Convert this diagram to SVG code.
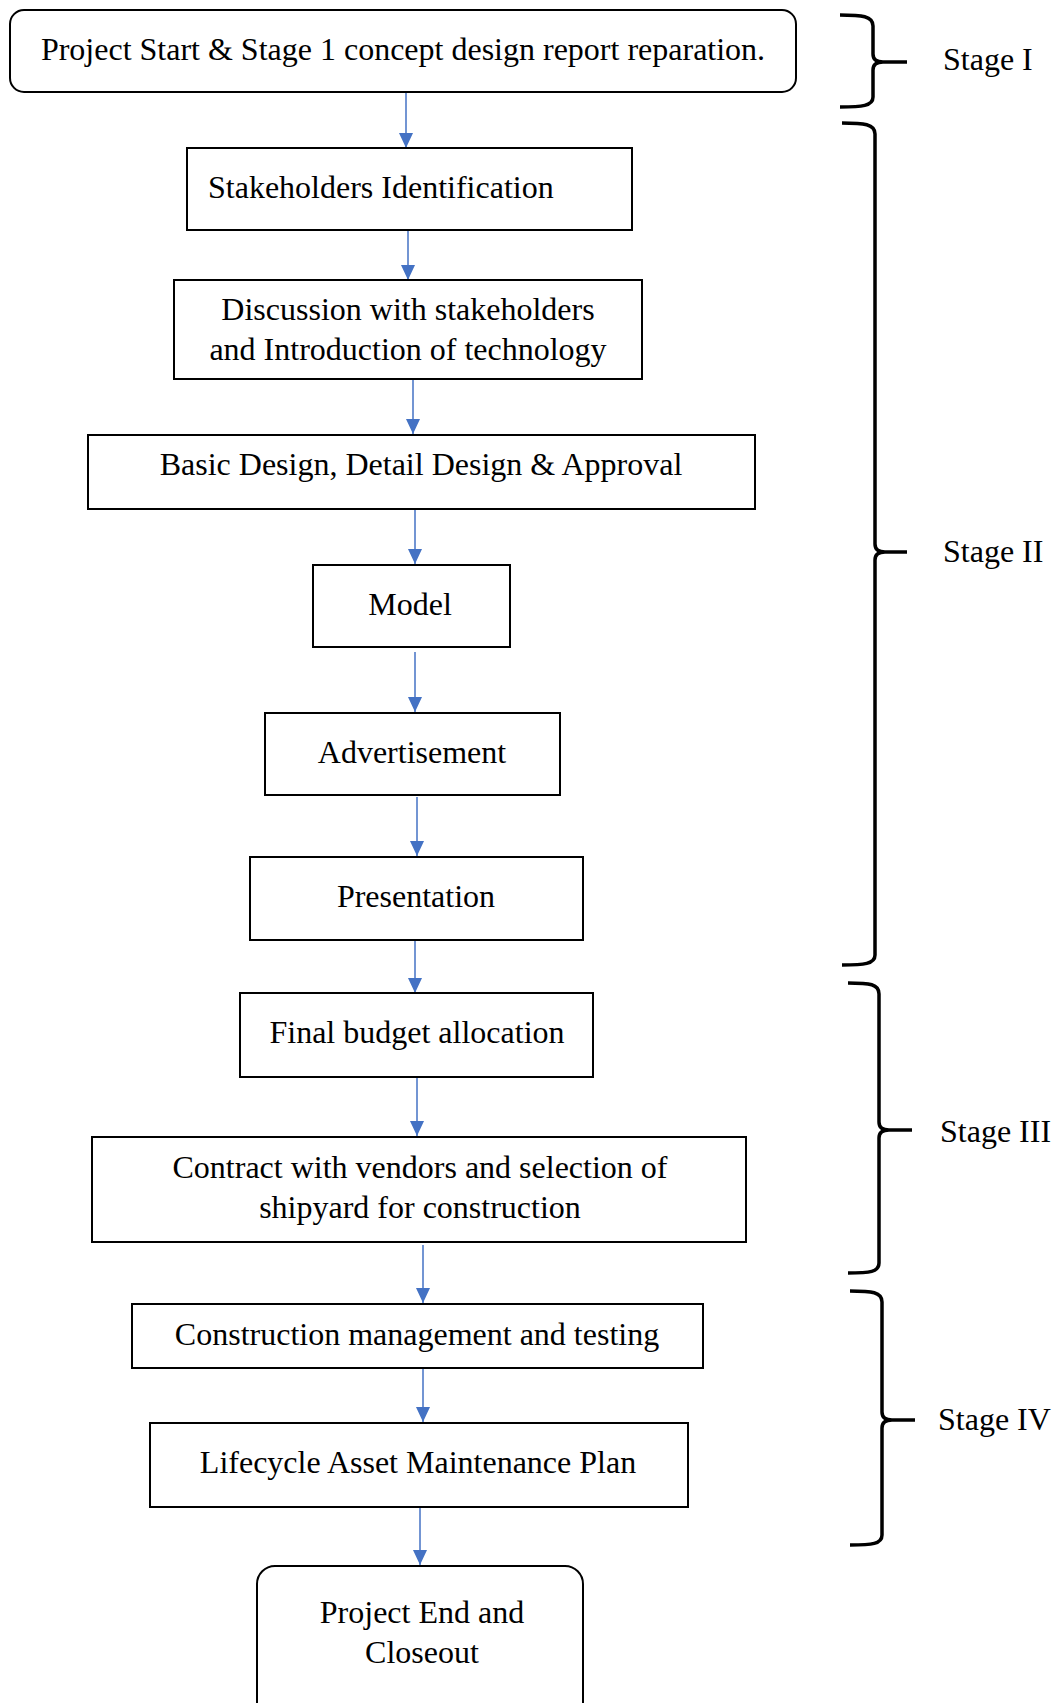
<svg xmlns="http://www.w3.org/2000/svg" width="1055" height="1703" viewBox="0 0 1055 1703">
  <defs>
    <style>
      .box { fill: #ffffff; stroke: #000000; stroke-width: 2; }
      .lbl { font-family: "Liberation Serif", "Times New Roman", serif; font-size: 32px; fill: #000000; }
      .mid { text-anchor: middle; }
      .conn { stroke: #4472C4; stroke-width: 1.5; fill: none; marker-end: url(#arrow); }
      .brace { stroke: #000000; stroke-width: 3.5; fill: none; stroke-linecap: butt; }
    </style>
    <!-- filled triangle head, drawn along +x so orient="auto" turns it with the line -->
    <marker id="arrow" markerUnits="userSpaceOnUse" markerWidth="15" markerHeight="14" viewBox="0 0 15 14" refX="15" refY="7" orient="auto">
      <path d="M0,0 L15,7 L0,14 Z" fill="#4472C4"/>
    </marker>
  </defs>

  <rect width="1055" height="1703" fill="#ffffff"/>

  <!-- flow connectors -->
  <g id="connectors">
    <line class="conn" x1="406" y1="93" x2="406" y2="148"/>
    <line class="conn" x1="408" y1="230" x2="408" y2="280"/>
    <line class="conn" x1="413" y1="379" x2="413" y2="434"/>
    <line class="conn" x1="415" y1="509" x2="415" y2="564"/>
    <line class="conn" x1="415" y1="652" x2="415" y2="712"/>
    <line class="conn" x1="417" y1="797" x2="417" y2="856"/>
    <line class="conn" x1="415" y1="940" x2="415" y2="993"/>
    <line class="conn" x1="417" y1="1077" x2="417" y2="1136"/>
    <line class="conn" x1="423" y1="1245" x2="423" y2="1303"/>
    <line class="conn" x1="423" y1="1368" x2="423" y2="1422"/>
    <line class="conn" x1="420" y1="1507" x2="420" y2="1565"/>
  </g>

  <g id="n-start">
    <rect class="box" x="10" y="10" width="786" height="82" rx="14"/>
    <text class="lbl mid" x="403" y="60">Project Start &amp; Stage 1 concept design report reparation.</text>
  </g>
  <g id="n-stakeholders">
    <rect class="box" x="187" y="148" width="445" height="82"/>
    <text class="lbl" x="208" y="198">Stakeholders Identification</text>
  </g>
  <g id="n-discussion">
    <rect class="box" x="174" y="280" width="468" height="99"/>
    <text class="lbl mid" x="408" y="320">Discussion with stakeholders</text>
    <text class="lbl mid" x="408" y="360">and Introduction of technology</text>
  </g>
  <g id="n-design">
    <rect class="box" x="88" y="435" width="667" height="74"/>
    <text class="lbl mid" x="421" y="475">Basic Design, Detail Design &amp; Approval</text>
  </g>
  <g id="n-model">
    <rect class="box" x="313" y="565" width="197" height="82"/>
    <text class="lbl mid" x="410" y="615">Model</text>
  </g>
  <g id="n-advertisement">
    <rect class="box" x="265" y="713" width="295" height="82"/>
    <text class="lbl mid" x="412" y="763">Advertisement</text>
  </g>
  <g id="n-presentation">
    <rect class="box" x="250" y="857" width="333" height="83"/>
    <text class="lbl mid" x="416" y="907">Presentation</text>
  </g>
  <g id="n-budget">
    <rect class="box" x="240" y="993" width="353" height="84"/>
    <text class="lbl mid" x="417" y="1043">Final budget allocation</text>
  </g>
  <g id="n-contract">
    <rect class="box" x="92" y="1137" width="654" height="105"/>
    <text class="lbl mid" x="420" y="1178">Contract with vendors and selection of</text>
    <text class="lbl mid" x="420" y="1218">shipyard for construction</text>
  </g>
  <g id="n-construction">
    <rect class="box" x="132" y="1304" width="571" height="64"/>
    <text class="lbl mid" x="417" y="1345">Construction management and testing</text>
  </g>
  <g id="n-lifecycle">
    <rect class="box" x="150" y="1423" width="538" height="84"/>
    <text class="lbl mid" x="418" y="1473">Lifecycle Asset Maintenance Plan</text>
  </g>
  <g id="n-end">
    <rect class="box" x="257" y="1566" width="326" height="160" rx="18"/>
    <text class="lbl mid" x="422" y="1623">Project End and</text>
    <text class="lbl mid" x="422" y="1663">Closeout</text>
  </g>

  <!-- stage brackets -->
  <g id="stage-1">
    <path class="brace" d="M840,15 C862,15 873,16 873,26 V54 Q873,62 883,62 H907 M883,62 Q873,62 873,70 V97 C873,106 862,107 840,107"/>
    <text class="lbl" x="943" y="70">Stage I</text>
  </g>
  <g id="stage-2">
    <path class="brace" d="M842,123 C864,123 875,124 875,134 V544 Q875,552 885,552 H907 M885,552 Q875,552 875,560 V955 C875,964 864,965 842,965"/>
    <text class="lbl" x="943" y="562">Stage II</text>
  </g>
  <g id="stage-3">
    <path class="brace" d="M848,983 C870,983 879,984 879,994 V1122 Q879,1130 889,1130 H912 M889,1130 Q879,1130 879,1138 V1263 C879,1272 870,1273 848,1273"/>
    <text class="lbl" x="940" y="1142">Stage III</text>
  </g>
  <g id="stage-4">
    <path class="brace" d="M850,1291 C872,1291 882,1292 882,1302 V1412 Q882,1420 892,1420 H915 M892,1420 Q882,1420 882,1428 V1535 C882,1544 872,1545 850,1545"/>
    <text class="lbl" x="938" y="1430">Stage IV</text>
  </g>
</svg>
